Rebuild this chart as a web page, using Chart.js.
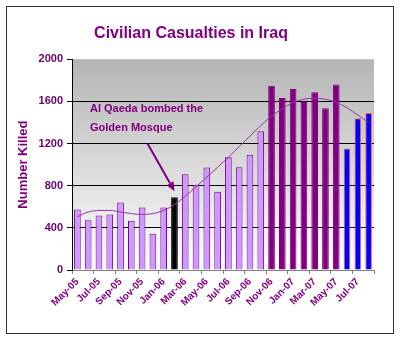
<!DOCTYPE html>
<html>
<head>
<meta charset="utf-8">
<script src="https://cdn.jsdelivr.net/npm/chart.js@4/dist/chart.umd.min.js"></script>
<style>
  html, body { margin: 0; padding: 0; background: #fff; }
  #wrap { width: 400px; height: 340px; position: relative; }
</style>
</head>
<body>
<div id="wrap"><canvas id="c"></canvas></div>
<script>
// monthly data, May-05 .. Aug-07
const months = ['May-05','Jun-05','Jul-05','Aug-05','Sep-05','Oct-05','Nov-05','Dec-05',
  'Jan-06','Feb-06','Mar-06','Apr-06','May-06','Jun-06','Jul-06','Aug-06','Sep-06','Oct-06',
  'Nov-06','Dec-06','Jan-07','Feb-07','Mar-07','Apr-07','May-07','Jun-07','Jul-07','Aug-07'];
const killed = [574, 473, 517, 527, 640, 467, 593, 344, 593, 691, 908, 808, 972, 742,
  1070, 975, 1093, 1316, 1749, 1632, 1717, 1594, 1686, 1534, 1761, 1152, 1440, 1490];
const trend = [505, 550, 565, 565, 550, 535, 527, 535, 565, 620, 700, 790, 880, 975,
  1070, 1170, 1270, 1370, 1460, 1530, 1590, 1620, 1630, 1620, 1590, 1540, 1470, 1400];
// which group each bar belongs to: 0 light, 1 mosque, 2 dark, 3 latest
const group = [0,0,0,0,0,0,0,0,0,1,0,0,0,0,0,0,0,0,2,2,2,2,2,2,2,3,3,3];
const yTicks = [0, 400, 800, 1200, 1600, 2000];
const noteLines = ['Al Qaeda bombed the', 'Golden Mosque'];
const noteIndex = 9;

const PURPLE = '#800080';
const fills = ['#cc99ff', '#000000', '#800080', '#0000ff'];
const borders = ['#800080', '#000000', '#800080', '#ff6633'];
const FONT = "'Liberation Sans', Arial, sans-serif";

const bgPlugin = {
  id: 'bg',
  beforeDraw(chart) {
    const { ctx, chartArea: a } = chart;
    ctx.save();
    const g = ctx.createLinearGradient(0, a.top, 0, a.bottom);
    g.addColorStop(0, '#b4b4b4');
    g.addColorStop(1, '#ffffff');
    ctx.fillStyle = g;
    ctx.fillRect(a.left, a.top, a.right - a.left, a.bottom - a.top);
    // outer frame
    ctx.strokeStyle = '#303030';
    ctx.lineWidth = 1;
    ctx.strokeRect(6.5, 6.5, 387, 327);
    ctx.restore();
  }
};

const notePlugin = {
  id: 'note',
  afterDatasetsDraw(chart) {
    const { ctx, scales: { x, y }, chartArea: a } = chart;
    ctx.save();
    ctx.fillStyle = PURPLE;
    ctx.font = 'bold 11px ' + FONT;
    ctx.textBaseline = 'middle';
    ctx.fillText(noteLines[0], a.left + 18, y.getPixelForValue(1530));
    ctx.fillText(noteLines[1], a.left + 18, y.getPixelForValue(1350));
    // arrow to the black bar
    const x0 = x.getPixelForValue(noteIndex - 2.5), y0 = y.getPixelForValue(1200);
    const x1 = x.getPixelForValue(noteIndex), y1 = y.getPixelForValue(killed[noteIndex]) - 6;
    const ang = Math.atan2(y1 - y0, x1 - x0);
    const hl = 9, hw = 4;
    const bx = x1 - hl * Math.cos(ang), by = y1 - hl * Math.sin(ang);
    ctx.strokeStyle = PURPLE;
    ctx.lineWidth = 2;
    ctx.beginPath();
    ctx.moveTo(x0, y0);
    ctx.lineTo(bx, by);
    ctx.stroke();
    ctx.beginPath();
    ctx.moveTo(x1, y1);
    ctx.lineTo(bx + hw * Math.sin(ang), by - hw * Math.cos(ang));
    ctx.lineTo(bx - hw * Math.sin(ang), by + hw * Math.cos(ang));
    ctx.closePath();
    ctx.fill();
    ctx.restore();
  }
};

new Chart(document.getElementById('c'), {
  data: {
    labels: months,
    datasets: [
      {
        type: 'line',
        data: trend,
        borderColor: '#9933aa',
        borderWidth: 1,
        pointRadius: 0,
        cubicInterpolationMode: 'monotone',
        order: 0
      },
      {
        type: 'bar',
        data: killed,
        backgroundColor: group.map(g => fills[g]),
        borderColor: group.map(g => borders[g]),
        borderWidth: 1,
        barPercentage: 0.62,
        categoryPercentage: 1,
        order: 1
      }
    ]
  },
  options: {
    responsive: true,
    maintainAspectRatio: false,
    animation: false,
    layout: { padding: { left: 8, right: 26, top: 0, bottom: 8 } },
    plugins: {
      legend: { display: false },
      tooltip: { enabled: false },
      title: {
        display: true,
        text: 'Civilian Casualties in Iraq',
        color: PURPLE,
        font: { family: FONT, size: 16, weight: 'bold' },
        padding: { top: 24, bottom: 16 }
      }
    },
    scales: {
      x: {
        offset: true,
        grid: {
          offset: true,
          drawOnChartArea: false,
          tickLength: 4,
          tickColor: ctx => (ctx.index % 2 ? 'rgba(0,0,0,0)' : '#808080')
        },
        border: { color: '#808080' },
        ticks: {
          autoSkip: false,
          maxRotation: 45,
          minRotation: 45,
          padding: 2,
          color: PURPLE,
          font: { family: FONT, size: 10, weight: 'bold' },
          callback: (v, i) => (i % 2 ? '' : months[i])
        },
        afterFit: s => { s.height = 62; }
      },
      y: {
        min: 0,
        max: 2000,
        afterBuildTicks: s => { s.ticks = yTicks.map(v => ({ value: v })); },
        grid: {
          color: ctx => (ctx.tick && ctx.tick.value > 0 && ctx.tick.value < 2000 ? '#000000' : 'rgba(0,0,0,0)'),
          tickColor: '#000000',
          tickLength: 5
        },
        border: { color: '#000000' },
        ticks: {
          padding: 4,
          color: '#6a006a',
          font: { family: FONT, size: 11, weight: 'bold' },
          callback: v => String(v)
        },
        title: {
          display: true,
          text: 'Number Killed',
          color: PURPLE,
          font: { family: FONT, size: 13, weight: 'bold' },
          padding: { top: 8, bottom: 0 }
        },
        afterFit: s => { s.width = 64; }
      }
    }
  },
  plugins: [bgPlugin, notePlugin]
});
</script>
</body>
</html>
